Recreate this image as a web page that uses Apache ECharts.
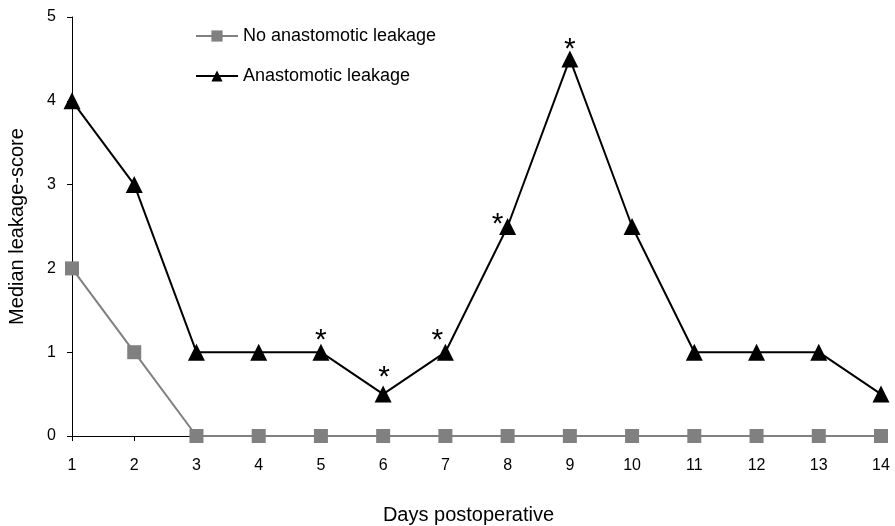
<!DOCTYPE html>
<html>
<head>
<meta charset="utf-8">
<script src="https://cdn.jsdelivr.net/npm/echarts@6/dist/echarts.min.js"></script>
<style>
  html, body { margin: 0; padding: 0; background: #fff; }
  #chart { width: 895px; height: 526px; }
</style>
</head>
<body>
<div id="chart"></div>
<script>
  const days = ['1', '2', '3', '4', '5', '6', '7', '8', '9', '10', '11', '12', '13', '14'];
  const noLeakage = [2, 1, 0, 0, 0, 0, 0, 0, 0, 0, 0, 0, 0, 0];
  const leakage = [4, 3, 1, 1, 1, 0.5, 1, 2.5, 4.5, 2.5, 1, 1, 1, 0.5];
  // days with a significant difference (marked with *)
  const starDays = ['5', '6', '7', '8', '9'];

  const font = 'Liberation Sans, Arial, sans-serif';

  // label offsets for the asterisks, relative to the point
  const starOffsets = { '5': [0, -11], '6': [1, -16], '7': [-8, -11], '8': [-10, -2], '9': [0, -9] };

  const leakageData = leakage.map(function (v, i) {
    const d = days[i];
    if (starDays.indexOf(d) < 0) return v;
    return {
      value: v,
      label: {
        show: true,
        position: 'inside',
        formatter: '*',
        fontSize: 30,
        color: '#000',
        offset: starOffsets[d]
      }
    };
  });

  const myChart = echarts.init(document.getElementById('chart'));
  const option = {
    backgroundColor: '#fff',
    animation: false,
    textStyle: { fontFamily: font },
    grid: { left: 72, right: 14, top: 17, bottom: 90, outerBoundsMode: 'none', containLabel: false },
    legend: {
      orient: 'vertical',
      left: 190,
      top: 22,
      itemWidth: 42,
      itemHeight: 14,
      itemGap: 22,
      textStyle: { fontSize: 18, color: '#000', fontFamily: font },
      data: ['No anastomotic leakage', 'Anastomotic leakage']
    },
    xAxis: {
      type: 'category',
      data: days,
      boundaryGap: false,
      name: 'Days postoperative',
      nameLocation: 'middle',
      nameGap: 69,
      nameTextStyle: { fontSize: 20, color: '#000', padding: [0, 16, 0, 0] },
      axisLine: { lineStyle: { color: '#000', width: 1 } },
      axisTick: { show: true, length: 5, lineStyle: { color: '#000' } },
      axisLabel: { fontSize: 16, color: '#000', margin: 22 },
      splitLine: { show: false }
    },
    yAxis: {
      type: 'value',
      min: 0,
      max: 5,
      interval: 1,
      name: 'Median leakage-score',
      nameLocation: 'middle',
      nameGap: 45,
      nameTextStyle: { fontSize: 20, color: '#000' },
      axisLine: { show: true, lineStyle: { color: '#000', width: 1 } },
      axisTick: { show: true, length: 5, lineStyle: { color: '#000' } },
      axisLabel: { fontSize: 16, color: '#000', margin: 16 },
      splitLine: { show: false }
    },
    series: [
      {
        name: 'No anastomotic leakage',
        type: 'line',
        data: noLeakage,
        symbol: 'rect',
        symbolSize: 14,
        itemStyle: { color: '#808080' },
        lineStyle: { color: '#808080', width: 2 },
        z: 2
      },
      {
        name: 'Anastomotic leakage',
        type: 'line',
        data: leakageData,
        symbol: 'triangle',
        symbolSize: 17,
        itemStyle: { color: '#000' },
        lineStyle: { color: '#000', width: 2 },
        z: 3
      }
    ]
  };
  myChart.setOption(option);
</script>
</body>
</html>
